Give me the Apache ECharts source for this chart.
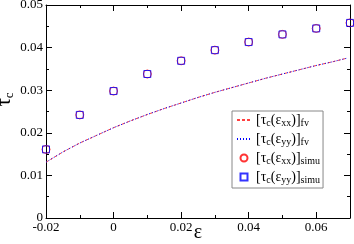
<!DOCTYPE html>
<html><head><meta charset="utf-8">
<script src="https://cdn.jsdelivr.net/npm/echarts@6/dist/echarts.min.js"></script>
<style>html,body{margin:0;padding:0;background:#fff}#c{width:354px;height:244px}</style>
</head><body><div id="c"></div>
<script>
const epsSim = [-0.02,-0.01,0,0.01,0.02,0.03,0.04,0.05,0.06,0.07];
const tauXXSim = [0.0161,0.0242,0.0298,0.0338,0.0369,0.0394,0.0413,0.0431,0.0445,0.0458];
const tauYYSim = [0.0161,0.0242,0.0298,0.0338,0.0369,0.0394,0.0413,0.0431,0.0445,0.0458];
const epsFv = [-0.02,-0.015,-0.01,-0.005,0,0.005,0.01,0.015,0.02,0.025,0.03,0.035,0.04,0.045,0.05,0.055,0.06,0.065,0.069];
const tauXXFv = [0.0131,0.0155,0.0176,0.0194,0.0212,0.0228,0.0243,0.0257,0.0270,0.0283,0.0295,0.0306,0.0317,0.0328,0.0338,0.0348,0.0358,0.0367,0.0375];
const tauYYFv = [0.0131,0.0155,0.0176,0.0194,0.0212,0.0228,0.0243,0.0257,0.0270,0.0283,0.0295,0.0306,0.0317,0.0328,0.0338,0.0348,0.0358,0.0367,0.0375];
const xTicks = {min:-0.02, max:0.07, interval:0.02};
const yTicks = {min:0, max:0.05, interval:0.01};

const F = 'Liberation Serif';
const zip = (a,b) => a.map((v,i)=>[v,b[i]]);
const legRich = {
  m:{fontFamily:F,fontSize:14,color:'#000'},
  s:{fontFamily:F,fontSize:10,color:'#000',verticalAlign:'bottom',padding:[6,0,0,0]}
};
const names = {
  xxfv:'{m|[τ}{s|c}{m|(ε}{s|xx}{m|)]}{s|fv}',
  yyfv:'{m|[τ}{s|c}{m|(ε}{s|yy}{m|)]}{s|fv}',
  xxs:'{m|[τ}{s|c}{m|(ε}{s|xx}{m|)]}{s|simu}',
  yys:'{m|[τ}{s|c}{m|(ε}{s|yy}{m|)]}{s|simu}'
};
const axisCommon = {
  axisLine:{show:true,onZero:false,lineStyle:{color:'#000',width:1}},
  axisTick:{show:true,inside:true,length:6,lineStyle:{color:'#000'}},
  minorTick:{show:true,splitNumber:2,length:3,lineStyle:{color:'#000'}},
  splitLine:{show:false}
};
const chart = echarts.init(document.getElementById('c'));
chart.setOption({
  animation:false,
  backgroundColor:'#fff',
  textStyle:{fontFamily:F},
  grid:{left:46,right:4,top:5,bottom:26,containLabel:false,outerBoundsMode:'none'},
  xAxis:[
    Object.assign({type:'value',position:'bottom',min:xTicks.min,max:xTicks.max,interval:xTicks.interval,
      name:'ε',nameLocation:'middle',nameGap:15,nameMoveOverlap:false,
      nameTextStyle:{fontFamily:F,fontSize:20,color:'#000',verticalAlign:'middle'},
      axisLabel:{fontFamily:F,fontSize:13,color:'#000',margin:3,showMaxLabel:false}},axisCommon),
    Object.assign({type:'value',position:'top',min:xTicks.min,max:xTicks.max,interval:xTicks.interval,
      axisLabel:{show:false}},axisCommon)
  ],
  yAxis:[
    Object.assign({type:'value',position:'left',min:yTicks.min,max:yTicks.max,interval:yTicks.interval,
      name:'{t|τ}{s|c}',nameLocation:'middle',nameGap:30,nameRotate:90,nameMoveOverlap:false,
      nameTextStyle:{fontFamily:F,padding:[0,0,0,24],rich:{t:{fontFamily:F,fontSize:21,color:'#000'},s:{fontFamily:F,fontSize:13,color:'#000',verticalAlign:'bottom',padding:[10,0,0,0]}}},
      axisLabel:{fontFamily:F,fontSize:13,color:'#000',margin:3}},axisCommon),
    Object.assign({type:'value',position:'right',min:yTicks.min,max:yTicks.max,interval:yTicks.interval,
      axisLabel:{show:false}},axisCommon)
  ],
  legend:{
    left:232,top:111,orient:'vertical',
    backgroundColor:'#fff',borderColor:'#888',borderWidth:1,borderRadius:0,
    padding:[2,3,3,4],itemGap:4,itemWidth:14,itemHeight:7,
    data:[
      {name:names.xxfv,itemStyle:{opacity:0}},
      {name:names.yyfv,itemStyle:{opacity:0}},
      {name:names.xxs},
      {name:names.yys,icon:'path://M0,0H10V10H0Z'}
    ],
    textStyle:{fontFamily:F,rich:legRich}
  },
  series:[
    {name:names.xxfv,type:'line',data:zip(epsFv,tauXXFv),showSymbol:false,symbol:'none',
      lineStyle:{color:'#ff4040',width:1,type:[3,2]},itemStyle:{color:'#ff4040'},z:2},
    {name:names.yyfv,type:'line',data:zip(epsFv,tauYYFv),showSymbol:false,symbol:'none',
      lineStyle:{color:'#0000ff',width:1,type:[1,2]},itemStyle:{color:'#0000ff'},z:3},
    {name:names.xxs,type:'scatter',data:zip(epsSim,tauXXSim),symbol:'circle',symbolSize:8,
      itemStyle:{color:'rgba(0,0,0,0)',borderColor:'#ff0000',borderWidth:1},z:4},
    {name:names.yys,type:'scatter',data:zip(epsSim,tauYYSim),symbol:'rect',symbolSize:7,
      itemStyle:{color:'rgba(0,0,0,0)',borderColor:'#0000ff',borderWidth:1},z:5}
  ]
});
</script></body></html>
